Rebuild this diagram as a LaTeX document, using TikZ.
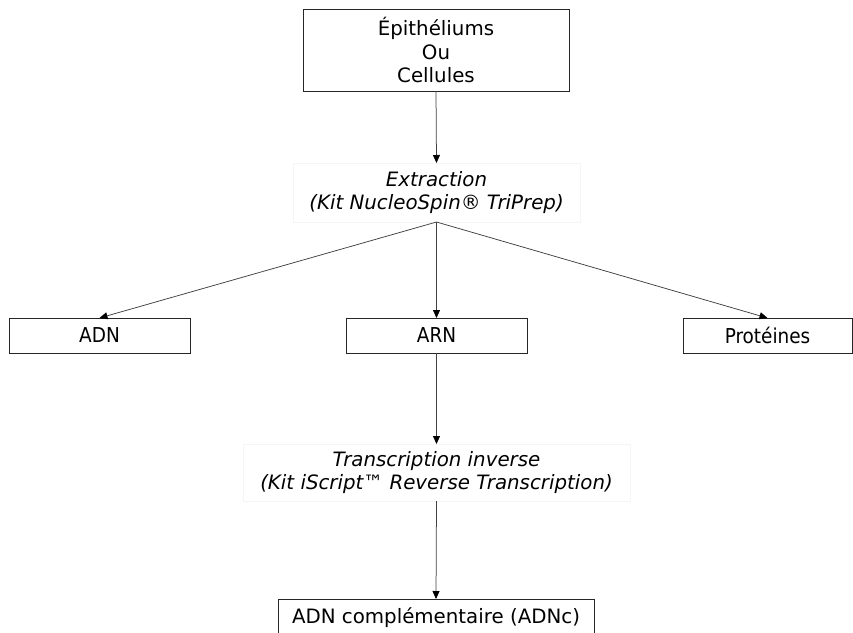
\documentclass[tikz,border=0pt]{standalone}
\usepackage{fontspec}
\setmainfont{DejaVu Sans}
\newfontfamily\condfont{DejaVu Sans Condensed}
\usetikzlibrary{arrows.meta}
\begin{document}
\begin{tikzpicture}[x=1pt,y=-1pt,
  every node/.style={inner sep=0pt, outer sep=0pt},
  mainbox/.style={draw=black!85, line width=1pt, align=center, font=\fontsize{19.8}{23.5}\selectfont},
  smallbox/.style={draw=black!85, line width=1pt, minimum height=35pt, font=\condfont\fontsize{20.5}{24}\selectfont},
  textbox/.style={draw=black!4, line width=0.8pt, align=center, font=\itshape\fontsize{19.8}{23.5}\selectfont},
  conn/.style={draw=black!75, line width=0.75pt, -{Triangle[length=8pt,width=7pt,color=black,fill=black]}}
]
\useasboundingbox (0,0) rectangle (853,632);
\clip (0,0) rectangle (853,632);
\node[mainbox, minimum width=266pt, minimum height=82pt] (src) at (436,50) {Épithéliums\\Ou\\Cellules};
\node[textbox, minimum width=287pt, minimum height=59pt] (ext) at (436.5,192.5) {Extraction\\(Kit NucleoSpin® TriPrep)};
\node[smallbox, minimum width=181pt] (adn) at (99.5,335.5) {ADN};
\node[smallbox, minimum width=181pt] (arn) at (436.5,335.5) {ARN};
\node[smallbox, minimum width=169pt] (prot) at (767.5,335.5) {Protéines};
\node[textbox, minimum width=387pt, minimum height=57pt] (trans) at (436.5,472.5) {Transcription inverse\\(Kit iScript™ Reverse Transcription)};
\node[mainbox, minimum width=316pt, minimum height=38pt] (cdna) at (436,618) {ADN complémentaire (ADNc)};
\draw[conn] (src.south) -- (ext.north);
\draw[conn] (ext.south) -- (adn.north);
\draw[conn] (ext.south) -- (arn.north);
\draw[conn] (ext.south) -- (prot.north);
\draw[conn] (arn.south) -- (trans.north);
\draw[conn] (trans.south) -- (cdna.north);
\end{tikzpicture}
\end{document}
